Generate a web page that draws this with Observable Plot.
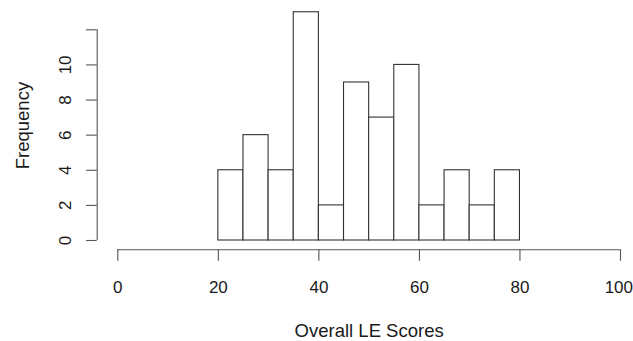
<!DOCTYPE html>
<html>
<head>
<meta charset="utf-8">
<script src="https://cdn.jsdelivr.net/npm/d3@7"></script>
<script src="https://cdn.jsdelivr.net/npm/@observablehq/plot@0.6"></script>
<style>
  html, body { margin: 0; padding: 0; background: #fff; }
  #chart svg { display: block; }
</style>
</head>
<body>
<div id="chart"></div>
<script>
// Histogram bins (width 5) and their frequencies
const binStarts = [20, 25, 30, 35, 40, 45, 50, 55, 60, 65, 70, 75];
const binWidth = 5;
const counts = [4, 6, 4, 13, 2, 9, 7, 10, 2, 4, 2, 4];
const xTicks = [0, 20, 40, 60, 80, 100];
const yTicks = [0, 2, 4, 6, 8, 10, 12];
const yTickLabels = [0, 2, 4, 6, 8, 10];
const xTitle = "Overall LE Scores";
const yTitle = "Frequency";

const bins = binStarts.map((s, i) => ({x1: s, x2: s + binWidth, count: counts[i]}));
const lastX = xTicks[xTicks.length - 1];
const innerXTicks = xTicks.slice(0, -1);

const font = "'Liberation Sans', Arial, sans-serif";
const ink = "#1a1a1a";
const axisColor = "#555";

const chart = Plot.plot({
  width: 633,
  height: 341,
  marginLeft: 117.3,
  marginRight: 13,
  marginTop: 29.3,
  marginBottom: 101,
  style: {fontFamily: font, fontSize: "17px", color: ink, background: "#fff"},
  x: {domain: [0, 100], axis: null},
  y: {domain: [0, 12], axis: null},
  marks: [
    Plot.rectY(bins, {x1: "x1", x2: "x2", y1: 0, y2: "count", fill: "#fff", stroke: "#333", strokeWidth: 1.1}),
    // x axis (offset below the plot like base R)
    Plot.ruleY([0], {x1: xTicks[0], x2: lastX, dy: 9.3, stroke: axisColor, strokeWidth: 1.1}),
    Plot.axisX({ticks: xTicks, tickSize: 11.4, dy: 9.3, tickFormat: () => "", label: null, stroke: axisColor, strokeWidth: 1.1}),
    Plot.text(innerXTicks, {x: d => d, frameAnchor: "bottom", lineAnchor: "bottom", dy: 52, text: d => String(d), fill: ink, fontSize: 17}),
    Plot.text([lastX], {x: d => d, frameAnchor: "bottom", lineAnchor: "bottom", textAnchor: "end", dx: 12.5, dy: 52, text: d => String(d), fill: ink, fontSize: 17}),
    Plot.text([xTitle], {frameAnchor: "bottom", lineAnchor: "bottom", dy: 96.7, fill: ink, fontSize: 18.5}),
    // y axis (offset left)
    Plot.ruleX([0], {y1: yTicks[0], y2: yTicks[yTicks.length - 1], dx: -20.6, stroke: axisColor, strokeWidth: 1.1}),
    Plot.axisY({ticks: yTicks, tickSize: 10.7, dx: -20.6, tickFormat: () => "", label: null, stroke: axisColor, strokeWidth: 1.1}),
    Plot.text(yTickLabels, {y: d => d, frameAnchor: "left", dx: -47, rotate: -90, textAnchor: "middle", lineAnchor: "bottom", text: d => String(d), fill: ink, fontSize: 17}),
    Plot.text([yTitle], {frameAnchor: "left", dx: -89, dy: -9.6, rotate: -90, textAnchor: "middle", lineAnchor: "bottom", fill: ink, fontSize: 18.5})
  ]
});
document.getElementById("chart").appendChild(chart);
</script>
</body>
</html>
